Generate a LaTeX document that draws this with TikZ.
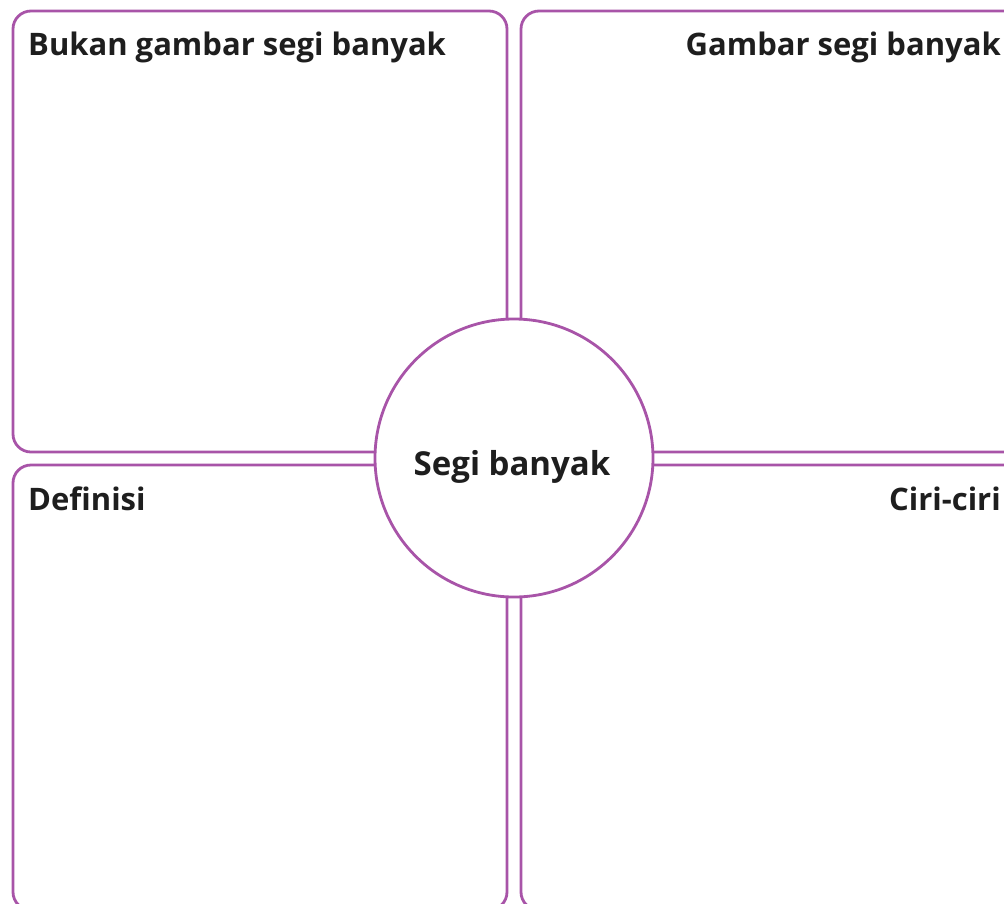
\documentclass[tikz,border=0pt]{standalone}
\usepackage{fontspec}
\setmainfont{Open Sans}[Ligatures=NoCommon]
\definecolor{boxpurple}{RGB}{168,84,168}
\definecolor{txt}{RGB}{30,30,30}
\begin{document}
\begin{tikzpicture}[x=1pt,y=-1pt,
  panel/.style={draw=boxpurple,line width=2.8pt,rounded corners=18pt},
  title/.style={font=\fontsize{31}{36}\selectfont\bfseries,text=txt,inner sep=0pt},
  hubtext/.style={font=\fontsize{33}{38}\selectfont\bfseries,text=txt,inner sep=0pt},
  hub/.style={circle,draw=boxpurple,fill=white,line width=2.8pt,minimum size=278pt,inner sep=0pt}]
\useasboundingbox (0,0) rectangle (1004,903);
\clip (0,0) rectangle (1004,903);
\draw[panel] (13,11) rectangle (507,452);
\draw[panel] (521,11) rectangle (1040,452);
\draw[panel] (13,465) rectangle (507,910);
\draw[panel] (521,465) rectangle (1040,910);
\node[hub] (c) at (514,458) {};
\node[hubtext,anchor=base] (ct) at (512,475) {Segi banyak};
\node[title,anchor=base west] (tl) at (28,55) {Bukan gambar segi banyak};
\node[title,anchor=base east] (tr) at (1001,55) {Gambar segi banyak};
\node[title,anchor=base west] (bl) at (28,510) {Definisi};
\node[title,anchor=base east] (br) at (1001,510) {Ciri-ciri};
\end{tikzpicture}
\end{document}
